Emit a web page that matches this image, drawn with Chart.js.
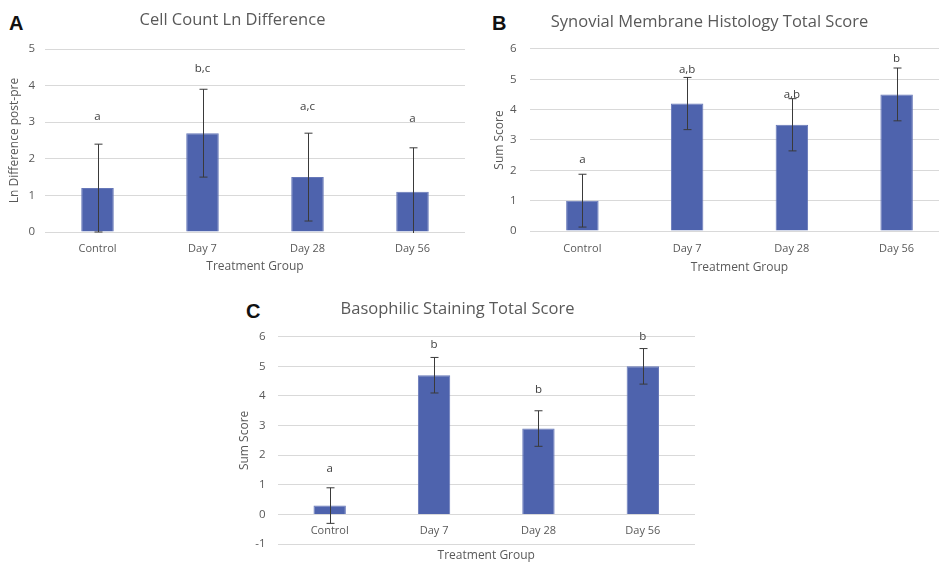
<!DOCTYPE html>
<html>
<head>
<meta charset="utf-8">
<script src="https://cdn.jsdelivr.net/npm/chart.js"></script>
<style>
  body { margin: 0; width: 939px; height: 563px; background: #fff; position: relative; overflow: hidden; }
  canvas { position: absolute; }
  .tag { position: absolute; font: bold 20px "Liberation Sans", Arial, sans-serif; color: #111; }
</style>
</head>
<body>
<div class="tag" style="left:9px;top:12px">A</div>
<div class="tag" style="left:492px;top:12px">B</div>
<div class="tag" style="left:246px;top:300px">C</div>
<canvas id="chartA" width="470" height="280" style="left:0;top:0"></canvas>
<canvas id="chartB" width="494" height="280" style="left:470px;top:0"></canvas>
<canvas id="chartC" width="486" height="273" style="left:220px;top:290px"></canvas>
<script>
const groups = ['Control', 'Day 7', 'Day 28', 'Day 56'];

// A - cell count
const cellMeans = [1.2, 2.7, 1.5, 1.1];
const cellErr = [1.2, 1.2, 1.2, 1.2];
const cellLetters = ['a', 'b,c', 'a,c', 'a'];
const cellLetterAt = [3.15, 4.45, 3.42, 3.1];

// B - synovial membrane
const synMeans = [1.0, 4.2, 3.5, 4.5];
const synErr = [0.87, 0.86, 0.86, 0.87];
const synLetters = ['a', 'a,b', 'a,b', 'b'];
const synLetterAt = [2.34, 5.3, 4.5, 5.67];

// C - basophilic staining
const basoMeans = [0.3, 4.7, 2.9, 5.0];
const basoErr = [0.6, 0.6, 0.6, 0.6];
const basoLetters = ['a', 'b', 'b', 'b'];
const basoLetterAt = [1.56, 5.72, 4.21, 6.0];

const FONT = '"Open Sans", sans-serif';
const GREY = '#595959';

// error bars + significance letters (+ category labels on the zero line when asked)
const errorBars = {
    id: 'errorBars',
    afterDatasetsDraw(chart, args, opts) {
        const ctx = chart.ctx;
        const y = chart.scales.y;
        const area = chart.chartArea;
        const bars = chart.getDatasetMeta(0).data;
        ctx.save();
        ctx.beginPath();
        ctx.rect(area.left, area.top, area.right - area.left, area.bottom - area.top + 1);
        ctx.clip();
        ctx.strokeStyle = '#3a3a3a';
        ctx.lineWidth = 1;
        bars.forEach((bar, i) => {
            const m = opts.means[i], e = opts.errs[i];
            const x = Math.round(bar.x) + 0.5;
            const top = y.getPixelForValue(m + e);
            const bot = y.getPixelForValue(m - e);
            ctx.beginPath();
            ctx.moveTo(x, top); ctx.lineTo(x, bot);
            ctx.moveTo(x - 4, top); ctx.lineTo(x + 4, top);
            ctx.moveTo(x - 4, bot); ctx.lineTo(x + 4, bot);
            ctx.stroke();
        });
        ctx.restore();
        ctx.save();
        ctx.fillStyle = '#404040';
        ctx.font = '11.5px ' + FONT;
        ctx.textAlign = 'center';
        ctx.textBaseline = 'middle';
        bars.forEach((bar, i) => {
            ctx.fillText(opts.letters[i], bar.x, y.getPixelForValue(opts.letterAt[i]));
        });
        if (opts.zeroLabels) {
            ctx.fillStyle = GREY;
            ctx.font = '11px ' + FONT;
            bars.forEach((bar, i) => {
                ctx.fillText(chart.data.labels[i], bar.x, y.getPixelForValue(0) + 16);
            });
        }
        ctx.restore();
    }
};

function CreateGraph(id, titleGraph, yTitle, means, errs, letters, letterAt, lay) {
    const graph = document.getElementById(id).getContext('2d');
    return new Chart(graph, {
        type: 'bar',
        data: {
            labels: groups,
            datasets: [{
                data: means,
                backgroundColor: '#4e63ad',
                borderColor: '#6677b8',
                borderWidth: 1,
                barPercentage: 0.31,
                categoryPercentage: 1,
            }],
        },
        plugins: [errorBars],
        options: {
            responsive: false,
            animation: false,
            layout: { padding: { left: 0, right: lay.padRight, top: 0, bottom: 0 } },
            scales: {
                x: {
                    grid: { display: false },
                    border: { display: false },
                    ticks: {
                        display: !lay.zeroLabels,
                        color: GREY, font: { family: FONT, size: 11 }, padding: lay.xTickPad,
                        maxRotation: 0, minRotation: 0, autoSkip: false,
                    },
                    title: {
                        display: true, text: 'Treatment Group', color: GREY,
                        font: { family: FONT, size: 12, lineHeight: 1 },
                        padding: { top: 0, bottom: lay.xTitlePad },
                    },
                    afterFit: (s) => { s.height = lay.xHeight; },
                },
                y: {
                    min: lay.min, max: lay.max,
                    ticks: { stepSize: 1, color: GREY, font: { family: FONT, size: 11.5 }, padding: lay.yTickPad },
                    grid: { color: '#d9d9d9', drawTicks: false },
                    border: { display: false },
                    title: {
                        display: true, text: yTitle, color: GREY,
                        font: { family: FONT, size: 12, lineHeight: 1 },
                        padding: { top: lay.yTitlePad, bottom: 0 },
                    },
                    afterFit: (s) => { s.width = lay.yWidth; },
                },
            },
            plugins: {
                legend: { display: false },
                tooltip: { enabled: false },
                title: {
                    display: true,
                    text: titleGraph,
                    color: GREY,
                    font: { family: FONT, size: 16.5, weight: 'normal', lineHeight: 1 },
                    padding: { top: lay.titleTop, bottom: lay.titleBottom },
                },
                errorBars: { means: means, errs: errs, letters: letters, letterAt: letterAt, zeroLabels: !!lay.zeroLabels },
            },
        },
    });
}

CreateGraph('chartA', 'Cell Count Ln Difference', 'Ln Difference post-pre',
    cellMeans, cellErr, cellLetters, cellLetterAt,
    { min: 0, max: 5, padRight: 5, titleTop: 12.2, titleBottom: 20.3, yWidth: 45, yTitlePad: 9,
      yTickPad: 10, xHeight: 48, xTickPad: 2.5, xTitlePad: 7 });

CreateGraph('chartB', 'Synovial Membrane Histology Total Score', 'Sum Score',
    synMeans, synErr, synLetters, synLetterAt,
    { min: 0, max: 6, padRight: 15, titleTop: 13.9, titleBottom: 18.5, yWidth: 60, yTitlePad: 24,
      yTickPad: 13.5, xHeight: 49, xTickPad: 3, xTitlePad: 6 });

CreateGraph('chartC', 'Basophilic Staining Total Score', 'Sum Score',
    basoMeans, basoErr, basoLetters, basoLetterAt,
    { min: -1, max: 6, padRight: 11, titleTop: 11.2, titleBottom: 19, yWidth: 57.5, yTitlePad: 19,
      yTickPad: 12, xHeight: 17.3, xTickPad: 0, xTitlePad: 0.3, zeroLabels: true });
</script>
</body>
</html>
